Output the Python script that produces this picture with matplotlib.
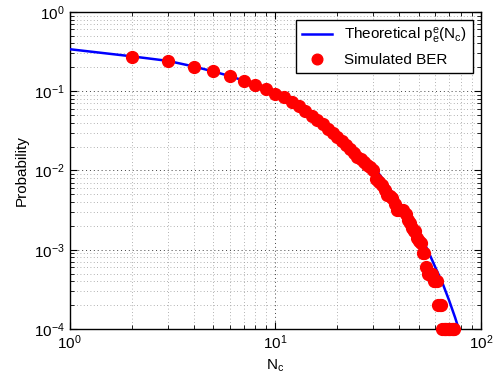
import matplotlib
matplotlib.use("Agg")
import matplotlib.pyplot as plt
import numpy as np

plt.rcParams['font.family'] = ['Liberation Sans', 'DejaVu Sans']
plt.rcParams['mathtext.fontset'] = 'custom'
plt.rcParams['mathtext.rm'] = 'Liberation Sans'
plt.rcParams['mathtext.it'] = 'Liberation Sans'

# theoretical curve
nc_theory = [1, 2, 3, 4, 5, 6, 7, 8, 10, 12, 15, 20, 25, 30, 35, 40, 45,
             50, 55, 60, 65, 70, 75, 78, 80]
p_theory = [0.338, 0.275, 0.241, 0.205, 0.177, 0.155, 0.136, 0.120, 0.093,
            0.074, 0.050, 0.0269, 0.0158, 0.0112, 6.6e-3, 3.9e-3, 2.5e-3,
            1.58e-3, 1.0e-3, 6.0e-4, 3.8e-4, 2.3e-4, 1.38e-4, 1.0e-4, 8.2e-5]

# simulated BER, one point per N_c
nc_sim = list(range(2, 75))
ber_sim = [0.273, 0.241, 0.204, 0.177, 0.156, 0.135, 0.119, 0.106, 0.0915,
           0.085, 0.074, 0.065, 0.056, 0.049, 0.043, 0.038, 0.033, 0.0295,
           0.0263, 0.0234, 0.0209, 0.0186, 0.0166, 0.0148, 0.0138, 0.0126,
           0.0118, 0.0110, 0.0102,
           7.9e-3, 7.1e-3, 6.5e-3, 5.6e-3, 4.9e-3, 4.7e-3, 4.5e-3, 3.8e-3,
           3.2e-3, 3.2e-3, 3.2e-3, 3.2e-3, 2.8e-3, 2.4e-3, 2.2e-3, 1.9e-3,
           1.7e-3, 1.7e-3, 1.4e-3, 1.3e-3, 1.2e-3, 9e-4, 9e-4, 6e-4, 5e-4,
           5e-4, 5e-4, 5e-4, 4e-4, 4e-4, 4e-4, 2e-4, 2e-4, 2e-4,
           1e-4, 1e-4, 1e-4, 1e-4, 1e-4, 1e-4, 1e-4, 1e-4, 1e-4, 1e-4]

fig = plt.figure(figsize=(5.02, 3.83), dpi=100)
ax = fig.add_axes([0.139, 0.141, 0.819, 0.828])

ax.loglog(nc_theory, p_theory, color='#0000ff', lw=1.8,
          label='Theoretical p$_e^e$(N$_c$)', zorder=3)
ax.loglog(nc_sim, ber_sim, 'o', color='#ff0000', ms=8.5, mec='#ff0000',
          label='Simulated BER', zorder=4, clip_on=False)

ax.set_xlim(1, 100)
ax.set_ylim(1e-4, 1)
ax.set_xlabel('N$_c$', fontsize=11)
ax.set_ylabel('Probability', fontsize=11)

# matlab-ish dotted grid, major darker than minor
ax.grid(True, which='major', linestyle=(0, (1, 3)), color='0.25', linewidth=0.7)
ax.grid(True, which='minor', linestyle=(0, (1, 3)), color='0.6', linewidth=0.6)
ax.tick_params(which='both', direction='in', top=True, right=True,
               labelsize=11)
ax.tick_params(which='major', length=5)
ax.tick_params(which='minor', length=3)
for s in ax.spines.values():
    s.set_linewidth(1.0)

leg = ax.legend(loc='upper right', fontsize=11, fancybox=False,
                edgecolor='black', framealpha=1, borderaxespad=0.5,
                handlelength=2.0, labelspacing=0.5, borderpad=0.4,
                markerscale=0.9)
leg.get_frame().set_linewidth(1.0)

fig.savefig('out.png', dpi=100)
